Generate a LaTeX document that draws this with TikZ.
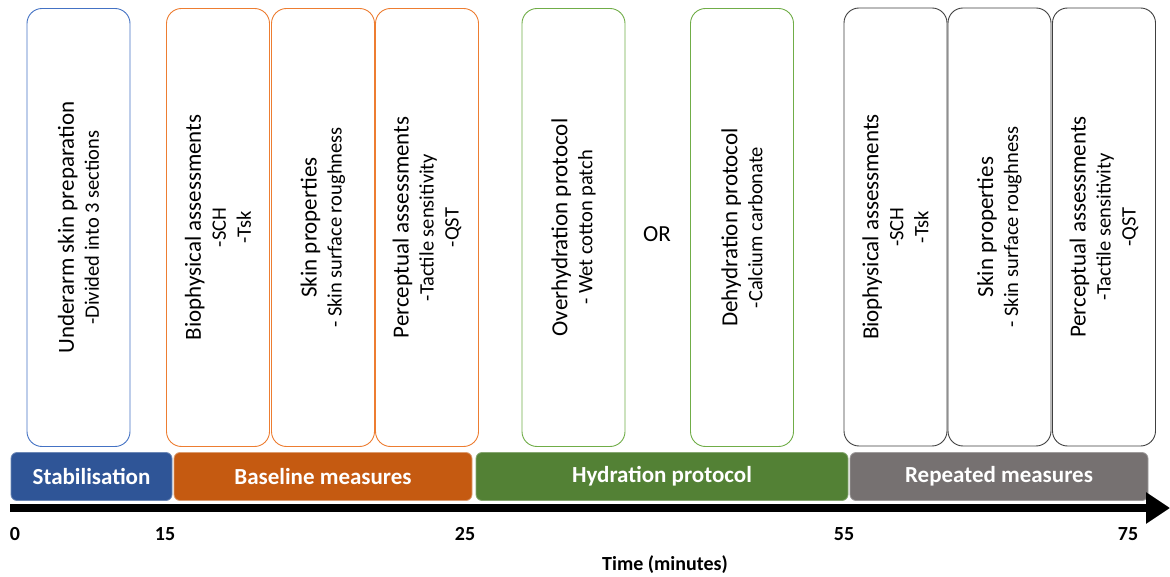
\documentclass[tikz,border=0pt]{standalone}
\usepackage{fontspec}
\setmainfont{Carlito}
\usetikzlibrary{arrows.meta}
\definecolor{cblue}{HTML}{4472C4}
\definecolor{corange}{HTML}{ED7D31}
\definecolor{cgreen}{HTML}{70AD47}
\definecolor{cgray}{HTML}{404040}
\definecolor{bblue}{HTML}{2F5597}
\definecolor{borange}{HTML}{C55A11}
\definecolor{bgreen}{HTML}{538135}
\definecolor{bgray}{HTML}{767171}
\tikzset{
  vbox/.style={rectangle, rounded corners=15pt, rotate=90, line width=0.9pt,
    minimum width=438pt, minimum height=103pt, align=center, inner sep=0pt,
    font=\fontsize{20.5}{25}\selectfont},
  bar/.style={rectangle, rounded corners=6pt, minimum height=48pt, inner sep=0pt,
    text=white, line width=0.8pt, font=\fontsize{23}{26}\selectfont\bfseries},
  tick/.style={font=\fontsize{20}{23}\selectfont\bfseries, inner sep=0pt},
}
\newcommand{\mainln}[1]{{\fontsize{23}{26}\selectfont #1}}
\begin{document}
\begin{tikzpicture}[x=1pt,y=-1pt]
\useasboundingbox[fill=white] (0,0) rectangle (1170,577);
% boxes
\node[vbox, draw=cblue] (prep) at (78.5,227.5) {\mainln{Underarm skin preparation}\\-Divided into 3 sections};
\node[vbox, draw=corange] (bio1) at (218,227.5) {\mainln{Biophysical assessments}\\-SCH\\-Tsk};
\node[vbox, draw=corange] (skin1) at (323,227.5) {\mainln{Skin properties}\\- Skin surface roughness};
\node[vbox, draw=corange] (perc1) at (427,227.5) {\mainln{Perceptual assessments}\\-Tactile sensitivity\\-QST};
\node[vbox, draw=cgreen] (over) at (573.5,227.5) {\mainln{Overhydration protocol}\\- Wet cotton patch};
\node[font=\fontsize{23}{26}\selectfont] (or) at (657,234) {OR};
\node[vbox, draw=cgreen] (dehy) at (742,227.5) {\mainln{Dehydration protocol}\\-Calcium carbonate};
\node[vbox, draw=cgray] (bio2) at (895.5,227) {\mainln{Biophysical assessments}\\-SCH\\-Tsk};
\node[vbox, draw=cgray] (skin2) at (999.5,227) {\mainln{Skin properties}\\- Skin surface roughness};
\node[vbox, draw=cgray] (perc2) at (1104,227) {\mainln{Perceptual assessments}\\-Tactile sensitivity\\-QST};
% bars
\node[bar, fill=bblue, draw=bblue!70!white, minimum width=161pt] (stab) at (91.5,476.5) {Stabilisation};
\node[bar, fill=borange, draw=borange!60!white, minimum width=298pt] (base) at (323,476.5) {Baseline measures};
\node[bar, fill=bgreen, draw=bgreen!70!white, minimum width=372pt] (hyd) at (662,476.5) {Hydration protocol};
\node[bar, fill=bgray, draw=bgray!70!white, minimum width=298pt] (rep) at (999,476.5) {Repeated measures};
% axis
\coordinate (a0) at (10,508);
\coordinate (a1) at (1170,508);
\draw[line width=8pt, -{Triangle[length=24pt,width=30pt]}] (a0) -- (a1);
\node[tick] (t0) at (15,534) {0};
\node[tick] (t15) at (165,534) {15};
\node[tick] (t25) at (465,534) {25};
\node[tick] (t55) at (844,534) {55};
\node[tick] (t75) at (1128,534) {75};
\node[tick] (tlab) at (665,565) {Time (minutes)};
\end{tikzpicture}
\end{document}
